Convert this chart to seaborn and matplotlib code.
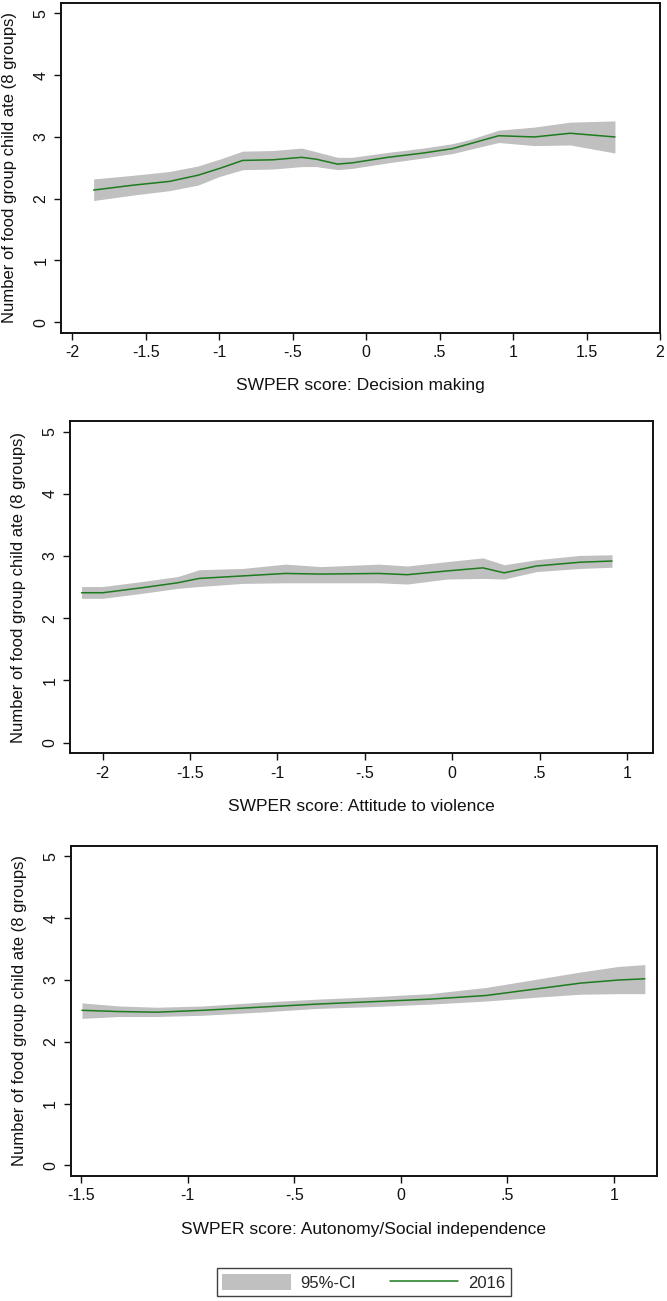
import numpy as np
import pandas as pd
import matplotlib
matplotlib.use("Agg")
import matplotlib.pyplot as plt
import seaborn as sns
from matplotlib.patches import Patch
from matplotlib.lines import Line2D

# Panel 1: Decision making
dm_x = [-1.855, -1.583, -1.339, -1.145, -0.998, -0.84, -0.636, -0.44, -0.34,
        -0.195, -0.097, 0.147, 0.39, 0.585, 0.706, 0.902, 1.145, 1.388, 1.693]
dm_y = [2.14, 2.22, 2.28, 2.38, 2.49, 2.62, 2.63, 2.67, 2.64,
        2.56, 2.58, 2.67, 2.74, 2.81, 2.89, 3.02, 3.00, 3.06, 3.00]
dm_hi = [2.32, 2.38, 2.44, 2.53, 2.64, 2.77, 2.78, 2.82, 2.76,
         2.67, 2.67, 2.75, 2.82, 2.89, 2.96, 3.11, 3.16, 3.24, 3.26]
dm_lo = [1.97, 2.06, 2.13, 2.22, 2.36, 2.47, 2.48, 2.52, 2.52,
         2.47, 2.49, 2.58, 2.66, 2.73, 2.80, 2.91, 2.86, 2.87, 2.74]

# Panel 2: Attitude to violence
av_x = [-2.121, -2.0, -1.776, -1.571, -1.448, -1.201, -0.955, -0.749, -0.421,
        -0.257, -0.031, 0.175, 0.297, 0.482, 0.729, 0.914]
av_y = [2.41, 2.41, 2.49, 2.57, 2.64, 2.68, 2.72, 2.71, 2.72,
        2.70, 2.76, 2.81, 2.73, 2.84, 2.90, 2.92]
av_hi = [2.51, 2.51, 2.59, 2.67, 2.78, 2.80, 2.87, 2.83, 2.87,
         2.84, 2.91, 2.97, 2.86, 2.94, 3.01, 3.02]
av_lo = [2.32, 2.32, 2.40, 2.48, 2.51, 2.56, 2.57, 2.57, 2.57,
         2.55, 2.63, 2.64, 2.63, 2.75, 2.80, 2.82]

# Panel 3: Autonomy/Social independence
au_x = [-1.496, -1.32, -1.144, -0.931, -0.665, -0.399, -0.133, 0.134, 0.40,
        0.666, 0.843, 1.021, 1.145]
au_y = [2.51, 2.49, 2.48, 2.51, 2.56, 2.61, 2.65, 2.69, 2.75,
        2.87, 2.95, 3.00, 3.02]
au_hi = [2.63, 2.58, 2.56, 2.58, 2.64, 2.69, 2.73, 2.78, 2.88,
         3.03, 3.13, 3.22, 3.25]
au_lo = [2.38, 2.41, 2.41, 2.43, 2.48, 2.54, 2.57, 2.61, 2.66,
         2.73, 2.77, 2.78, 2.78]

panels = [
    ("SWPER score: Decision making", dm_x, dm_y, dm_lo, dm_hi,
     [-2, -1.5, -1, -0.5, 0, 0.5, 1, 1.5, 2],
     ["-2", "-1.5", "-1", "-.5", "0", ".5", "1", "1.5", "2"], (-2.077, 2.0)),
    ("SWPER score: Attitude to violence", av_x, av_y, av_lo, av_hi,
     [-2, -1.5, -1, -0.5, 0, 0.5, 1],
     ["-2", "-1.5", "-1", "-.5", "0", ".5", "1"], (-2.187, 1.147)),
    ("SWPER score: Autonomy/Social independence", au_x, au_y, au_lo, au_hi,
     [-1.5, -1, -0.5, 0, 0.5, 1],
     ["-1.5", "-1", "-.5", "0", ".5", "1"], (-1.549, 1.202)),
]

sns.set_style("ticks")
plt.rcParams["font.family"] = ["Liberation Sans", "DejaVu Sans"]

fig = plt.figure(figsize=(6.67, 13.01), dpi=100)
positions = [
    [0.0915, 0.7443, 0.8981, 0.2534],
    [0.1050, 0.4210, 0.8736, 0.2554],
    [0.1060, 0.0961, 0.8790, 0.2537],
]

ci_color = "#c0c0c0"
line_color = "#1e7b1e"
ink = "#111111"

for pos, (xlabel, xs, ys, lo, hi, xt, xtl, xlim) in zip(positions, panels):
    ax = fig.add_axes(pos)
    df = pd.DataFrame({"x": xs, "y": ys, "lo": lo, "hi": hi})
    ax.fill_between(df["x"], df["lo"], df["hi"], color=ci_color, linewidth=0)
    sns.lineplot(data=df, x="x", y="y", ax=ax, color=line_color, linewidth=1.1)
    ax.set_xlim(*xlim)
    ax.set_ylim(-0.17, 5.17)
    ax.set_xticks(xt)
    ax.set_xticklabels(xtl)
    ax.set_yticks([0, 1, 2, 3, 4, 5])
    ax.set_yticklabels(["0", "1", "2", "3", "4", "5"], rotation=90, va="center")
    ax.tick_params(direction="out", length=5, width=1, colors=ink,
                   labelsize=11.5, pad=4)
    ax.set_xlabel(xlabel, fontsize=12.5, labelpad=13, color=ink)
    ax.set_ylabel("Number of food group child ate (8 groups)", fontsize=12,
                  labelpad=12, color=ink)
    for sp in ax.spines.values():
        sp.set_visible(True)
        sp.set_linewidth(1.4)
        sp.set_color(ink)

handles = [Patch(facecolor=ci_color, edgecolor="none"),
           Line2D([0], [0], color=line_color, linewidth=1.1)]
leg = fig.legend(handles, ["95%-CI", "2016"], loc="center",
                 bbox_to_anchor=(0.5453, 0.01445), ncol=2, frameon=True,
                 fancybox=False, fontsize=12, handlelength=4.1,
                 handleheight=1.1, handletextpad=0.6, columnspacing=2.0,
                 borderpad=0.35)
leg.get_frame().set_edgecolor(ink)
leg.get_frame().set_linewidth(1.0)

fig.savefig("out.png", dpi=100)
